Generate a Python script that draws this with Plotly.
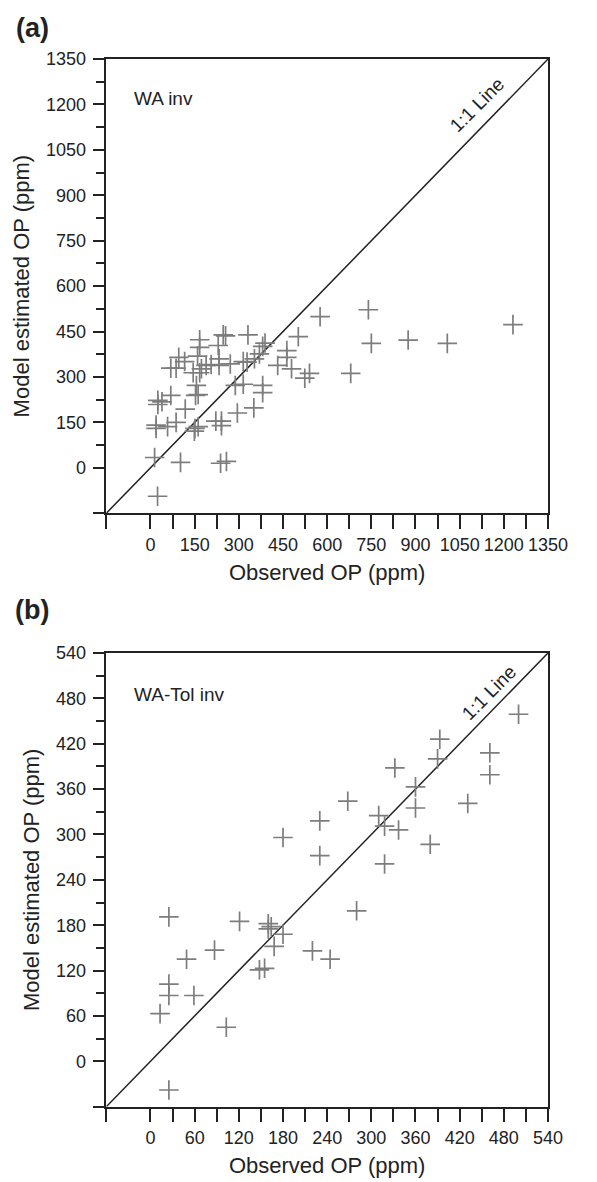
import plotly.graph_objects as go

# panel (a) WA inv: observed vs model estimated OP (ppm)
wa_obs = [24, 14, 102, 238, 258, 19, 19, 58, 87, 25, 25, 39, 69, 118, 151, 162, 149,
          222, 241, 241, 295, 351, 156, 162, 153, 288, 315, 381, 381, 69, 87, 145,
          167, 173, 96, 116, 160, 189, 206, 233, 233, 271, 315, 328, 353, 370, 381,
          389, 432, 463, 463, 479, 167, 167, 247, 255, 331, 230, 502, 524, 540, 576,
          680, 740, 750, 875, 1008, 1231]
wa_est = [-94, 34, 18, 15, 21, 141, 130, 136, 150, 223, 209, 218, 239, 194, 130, 136, 121,
          154, 154, 139, 181, 198, 272, 242, 239, 272, 276, 272, 248, 329, 329, 314,
          314, 327, 365, 351, 369, 338, 341, 338, 360, 343, 351, 349, 360, 376, 401,
          412, 338, 387, 365, 327, 423, 398, 439, 436, 439, 404, 433, 296, 312, 499,
          312, 522, 411, 422, 411, 473]

# panel (b) WA-Tol inv
tol_obs = [25, 13, 103, 25, 25, 59, 49, 87, 25, 121, 160, 160, 164, 180, 168, 148, 155,
           220, 244, 280, 180, 230, 230, 268, 310, 318, 337, 318, 380, 360, 360, 431,
           332, 393, 390, 461, 461, 500]
tol_est = [-38, 63, 45, 102, 87, 87, 135, 147, 191, 185, 182, 175, 178, 168, 152, 121, 123,
           146, 135, 199, 296, 318, 272, 344, 325, 311, 306, 261, 287, 363, 335, 341,
           388, 426, 400, 408, 379, 459]

a_lo, a_hi, a_step = -150, 1350, 150
b_lo, b_hi, b_step = -60, 540, 60

FONT = "Liberation Sans, Arial, Helvetica, sans-serif"
INK = "#222222"
CROSS = "#7d7d7d"

fig = go.Figure()


def add_panel(obs, est, lo, hi, xa, ya):
    # 1:1 line across the whole box
    fig.add_trace(go.Scatter(x=[lo, hi], y=[lo, hi], mode="lines",
                             line=dict(color=INK, width=1.5),
                             xaxis=xa, yaxis=ya, hoverinfo="skip"))
    fig.add_trace(go.Scatter(x=obs, y=est, mode="markers",
                             marker=dict(symbol="cross-thin-open", size=14, color=CROSS,
                                         line=dict(color=CROSS, width=1.7)),
                             xaxis=xa, yaxis=ya))


add_panel(wa_obs, wa_est, a_lo, a_hi, "x", "y")
add_panel(tol_obs, tol_est, b_lo, b_hi, "x2", "y2")


def x_axis(lo, hi, step, domain_anchor):
    vals = [lo] + list(range(0, hi + 1, step // 2))
    text = ["" if (v == lo or v % step) else str(v) for v in vals]
    return dict(range=[lo, hi], domain=[110 / 597, 567 / 597], anchor=domain_anchor,
                showgrid=False, zeroline=False, showline=True, mirror=True,
                linecolor=INK, linewidth=1.5, ticks="outside", ticklen=14,
                tickwidth=1.5, tickcolor=INK, tickmode="array", tickvals=vals,
                ticktext=text, ticklabelstandoff=0,
                tickfont=dict(family=FONT, size=18, color=INK),
                title=dict(text="Observed OP (ppm)", standoff=11,
                           font=dict(family=FONT, size=22, color=INK)))


def y_axis(lo, hi, step, dom, domain_anchor):
    vals = [lo] + list(range(0, hi + 1, step))
    text = [""] + [str(v) for v in vals[1:]]
    return dict(range=[lo, hi], domain=dom, anchor=domain_anchor,
                showgrid=False, zeroline=False, showline=True, mirror=True,
                linecolor=INK, linewidth=1.5, ticks="outside", ticklen=12,
                tickwidth=1.5, tickcolor=INK, tickmode="array", tickvals=vals,
                ticktext=text, ticklabelstandoff=3,
                minor=dict(tickmode="array", tickvals=list(range(step // 2, hi, step)),
                           ticks="outside", ticklen=9, tickwidth=1.5, tickcolor=INK),
                tickfont=dict(family=FONT, size=18, color=INK),
                title=dict(text="Model estimated OP (ppm)", standoff=10,
                           font=dict(family=FONT, size=22, color=INK)))


H = 1182
fig.update_layout(
    width=597, height=H,
    margin=dict(l=0, r=0, t=0, b=0),
    paper_bgcolor="white", plot_bgcolor="white",
    showlegend=False,
    xaxis=x_axis(a_lo, a_hi, a_step, "y"),
    yaxis=y_axis(a_lo, a_hi, a_step, [1 - 507.5 / H, 1 - 49.5 / H], "x"),
    xaxis2=x_axis(b_lo, b_hi, b_step, "y2"),
    yaxis2=y_axis(b_lo, b_hi, b_step, [1 - 1106 / H, 1 - 648.5 / H], "x2"),
)

notes = [
    dict(text="<b>(a)</b>", xref="paper", yref="paper", x=0.056, y=1 - 18 / H, size=27),
    dict(text="<b>(b)</b>", xref="paper", yref="paper", x=0.056, y=1 - 605 / H, size=27),
    dict(text="WA inv", xref="x domain", yref="y domain", x=0.059, y=0.914,
         size=19, xanchor="left"),
    dict(text="WA-Tol inv", xref="x2 domain", yref="y2 domain", x=0.059, y=0.908,
         size=19, xanchor="left"),
    dict(text="1:1 Line", xref="x", yref="y", x=1110, y=1200, size=19, angle=-45),
    dict(text="1:1 Line", xref="x2", yref="y2", x=460, y=488, size=19, angle=-45),
]
for n in notes:
    fig.add_annotation(text=n["text"], xref=n["xref"], yref=n["yref"], x=n["x"], y=n["y"],
                       showarrow=False, textangle=n.get("angle", 0),
                       xanchor=n.get("xanchor", "center"), yanchor="middle",
                       font=dict(family=FONT, size=n["size"], color=INK))

fig.write_html("out.html", config={"displayModeBar": False},
               post_script="document.body.style.margin='0';")
